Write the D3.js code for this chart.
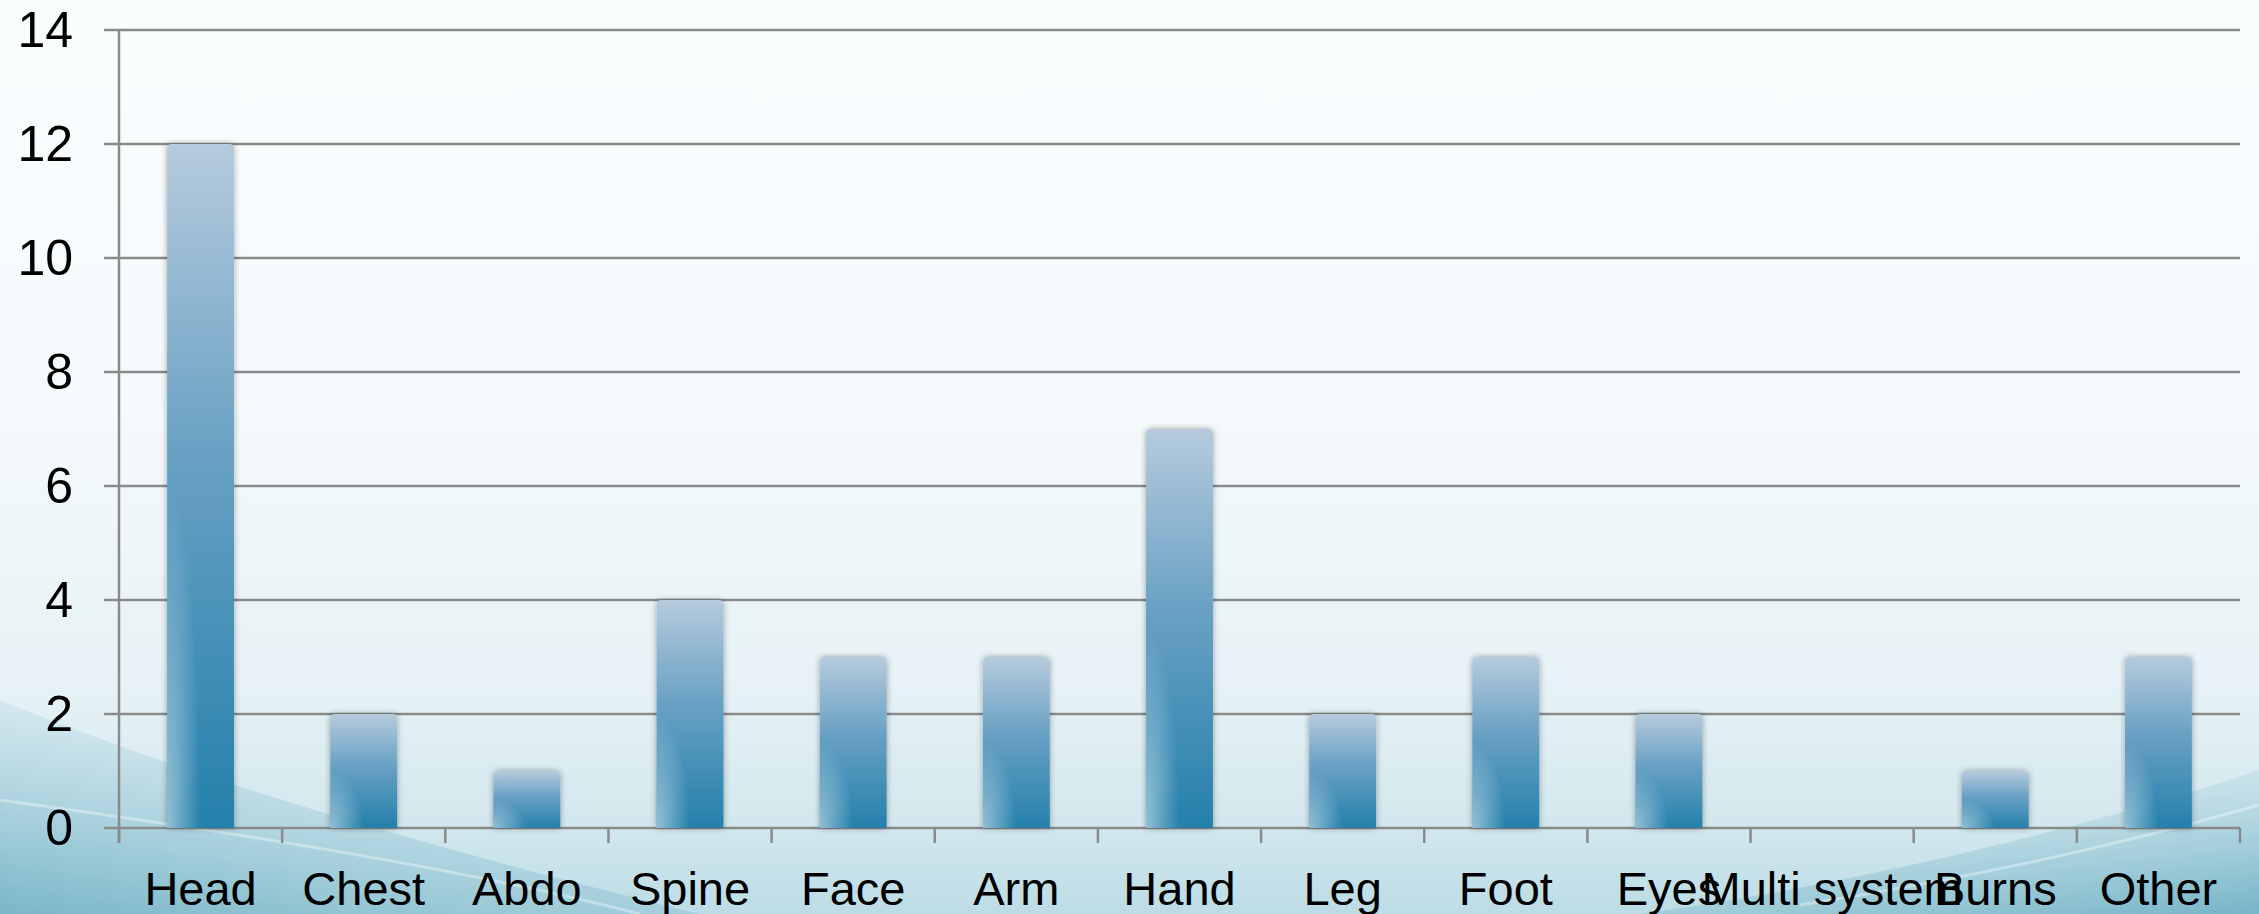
<!DOCTYPE html>
<html>
<head>
<meta charset="utf-8">
<script src="https://cdn.jsdelivr.net/npm/d3@7"></script>
<style>
  html, body { margin: 0; padding: 0; overflow: hidden; }
  body { width: 2259px; height: 914px; }
  text { font-family: "Liberation Sans", Arial, sans-serif; fill: #000; }
</style>
</head>
<body>
<svg id="chart" width="2259" height="914"></svg>
<script>
const categories = ["Head", "Chest", "Abdo", "Spine", "Face", "Arm", "Hand", "Leg", "Foot", "Eyes", "Multi system", "Burns", "Other"];
const values = [12, 2, 1, 4, 3, 3, 7, 2, 3, 2, 0, 1, 3];
const yTicks = [0, 2, 4, 6, 8, 10, 12, 14];

const W = 2259, H = 914;
const svg = d3.select("#chart");
const defs = svg.append("defs");

// background gradient
const bg = defs.append("linearGradient").attr("id", "bg").attr("x1", 0).attr("y1", 0).attr("x2", 0).attr("y2", 1);
bg.append("stop").attr("offset", "0%").attr("stop-color", "#fafdfe");
bg.append("stop").attr("offset", "45%").attr("stop-color", "#f5fafc");
bg.append("stop").attr("offset", "75%").attr("stop-color", "#e6f2f6");
bg.append("stop").attr("offset", "90%").attr("stop-color", "#d3e8ee");
bg.append("stop").attr("offset", "100%").attr("stop-color", "#bcdce5");

const waveL = defs.append("linearGradient").attr("id", "waveL").attr("x1", 0).attr("y1", 1).attr("x2", 0.6).attr("y2", 0);
waveL.append("stop").attr("offset", "0%").attr("stop-color", "#6aaec2").attr("stop-opacity", 0.8);
waveL.append("stop").attr("offset", "100%").attr("stop-color", "#a8d0dc").attr("stop-opacity", 0);
const waveR = defs.append("linearGradient").attr("id", "waveR").attr("x1", 1).attr("y1", 1).attr("x2", 0.4).attr("y2", 0);
waveR.append("stop").attr("offset", "0%").attr("stop-color", "#6aaec2").attr("stop-opacity", 0.85);
waveR.append("stop").attr("offset", "100%").attr("stop-color", "#a8d0dc").attr("stop-opacity", 0);

// bar gradient
const barG = defs.append("linearGradient").attr("id", "barG").attr("x1", 0).attr("y1", 0).attr("x2", 0).attr("y2", 1);
barG.append("stop").attr("offset", "0%").attr("stop-color", "#b6cbdd");
barG.append("stop").attr("offset", "45%").attr("stop-color", "#69a1c4");
barG.append("stop").attr("offset", "100%").attr("stop-color", "#2480ab");
const barHi = defs.append("radialGradient").attr("id", "barHi").attr("cx", 0).attr("cy", 1).attr("r", 0.5);
barHi.append("stop").attr("offset", "0%").attr("stop-color", "#ffffff").attr("stop-opacity", 0.5);
barHi.append("stop").attr("offset", "100%").attr("stop-color", "#ffffff").attr("stop-opacity", 0);

const sh = defs.append("filter").attr("id", "shadow").attr("x", "-30%").attr("y", "-10%").attr("width", "160%").attr("height", "120%");
sh.append("feDropShadow").attr("dx", 0).attr("dy", 0).attr("stdDeviation", 3).attr("flood-color", "#000").attr("flood-opacity", 0.35);

// background
svg.append("rect").attr("width", W).attr("height", H).attr("fill", "url(#bg)");
svg.append("path").attr("d", "M0,700 C220,790 480,860 700,914 L0,914 Z").attr("fill", "url(#waveL)");
svg.append("path").attr("d", "M0,800 C220,830 470,870 640,914").attr("fill", "none").attr("stroke", "#ffffff").attr("stroke-opacity", 0.35).attr("stroke-width", 3);
svg.append("path").attr("d", "M2259,770 C2080,830 1850,885 1640,914 L2259,914 Z").attr("fill", "url(#waveR)");
svg.append("path").attr("d", "M2259,805 C2120,845 1960,880 1800,905").attr("fill", "none").attr("stroke", "#ffffff").attr("stroke-opacity", 0.35).attr("stroke-width", 3);

const x = d3.scaleBand().domain(categories).range([119, 2240]).paddingInner(0.59).paddingOuter(0.295);
const y = d3.scaleLinear().domain([0, 14]).range([828, 30]);

// gridlines
svg.append("g").selectAll("line").data(yTicks).join("line")
  .attr("x1", 104).attr("x2", 2240)
  .attr("y1", d => y(d)).attr("y2", d => y(d))
  .attr("stroke", "#8a8a8a").attr("stroke-width", 2.5);

// y axis line
svg.append("line").attr("x1", 119).attr("x2", 119).attr("y1", y(14)).attr("y2", 843)
  .attr("stroke", "#8a8a8a").attr("stroke-width", 2.5);

// category ticks
const step = x.step();
const tickXs = categories.map(c => x(c) - (step - x.bandwidth()) / 2)
  .concat([x(categories[categories.length - 1]) + x.bandwidth() + (step - x.bandwidth()) / 2]);
svg.append("g").selectAll("line").data(tickXs).join("line")
  .attr("x1", d => d).attr("x2", d => d).attr("y1", 828).attr("y2", 843)
  .attr("stroke", "#8a8a8a").attr("stroke-width", 2.5);

// bars
function barPath(x0, w, yTop, yBot) {
  const r = Math.min(5, (yBot - yTop) / 2);
  return `M${x0},${yBot} L${x0},${yTop + r} Q${x0},${yTop} ${x0 + r},${yTop} L${x0 + w - r},${yTop} Q${x0 + w},${yTop} ${x0 + w},${yTop + r} L${x0 + w},${yBot} Z`;
}
const data = categories.map((c, i) => ({ c, v: values[i] })).filter(d => d.v > 0);
const bars = svg.append("g");
bars.selectAll("path.bar").data(data).join("path").attr("class", "bar")
  .attr("d", d => barPath(x(d.c), x.bandwidth(), y(d.v), y(0)))
  .attr("fill", "url(#barG)").attr("filter", "url(#shadow)");
bars.selectAll("path.hi").data(data).join("path").attr("class", "hi")
  .attr("d", d => barPath(x(d.c), x.bandwidth(), y(d.v), y(0)))
  .attr("fill", "url(#barHi)");

// y labels
svg.append("g").selectAll("text").data(yTicks).join("text")
  .attr("x", 73).attr("y", d => y(d)).attr("text-anchor", "end")
  .attr("dominant-baseline", "central").attr("font-size", 50)
  .text(d => d);

// x labels
svg.append("g").selectAll("text").data(categories).join("text")
  .attr("x", d => x(d) + x.bandwidth() / 2).attr("y", 905)
  .attr("text-anchor", "middle").attr("font-size", 47)
  .text(d => d);
</script>
</body>
</html>
